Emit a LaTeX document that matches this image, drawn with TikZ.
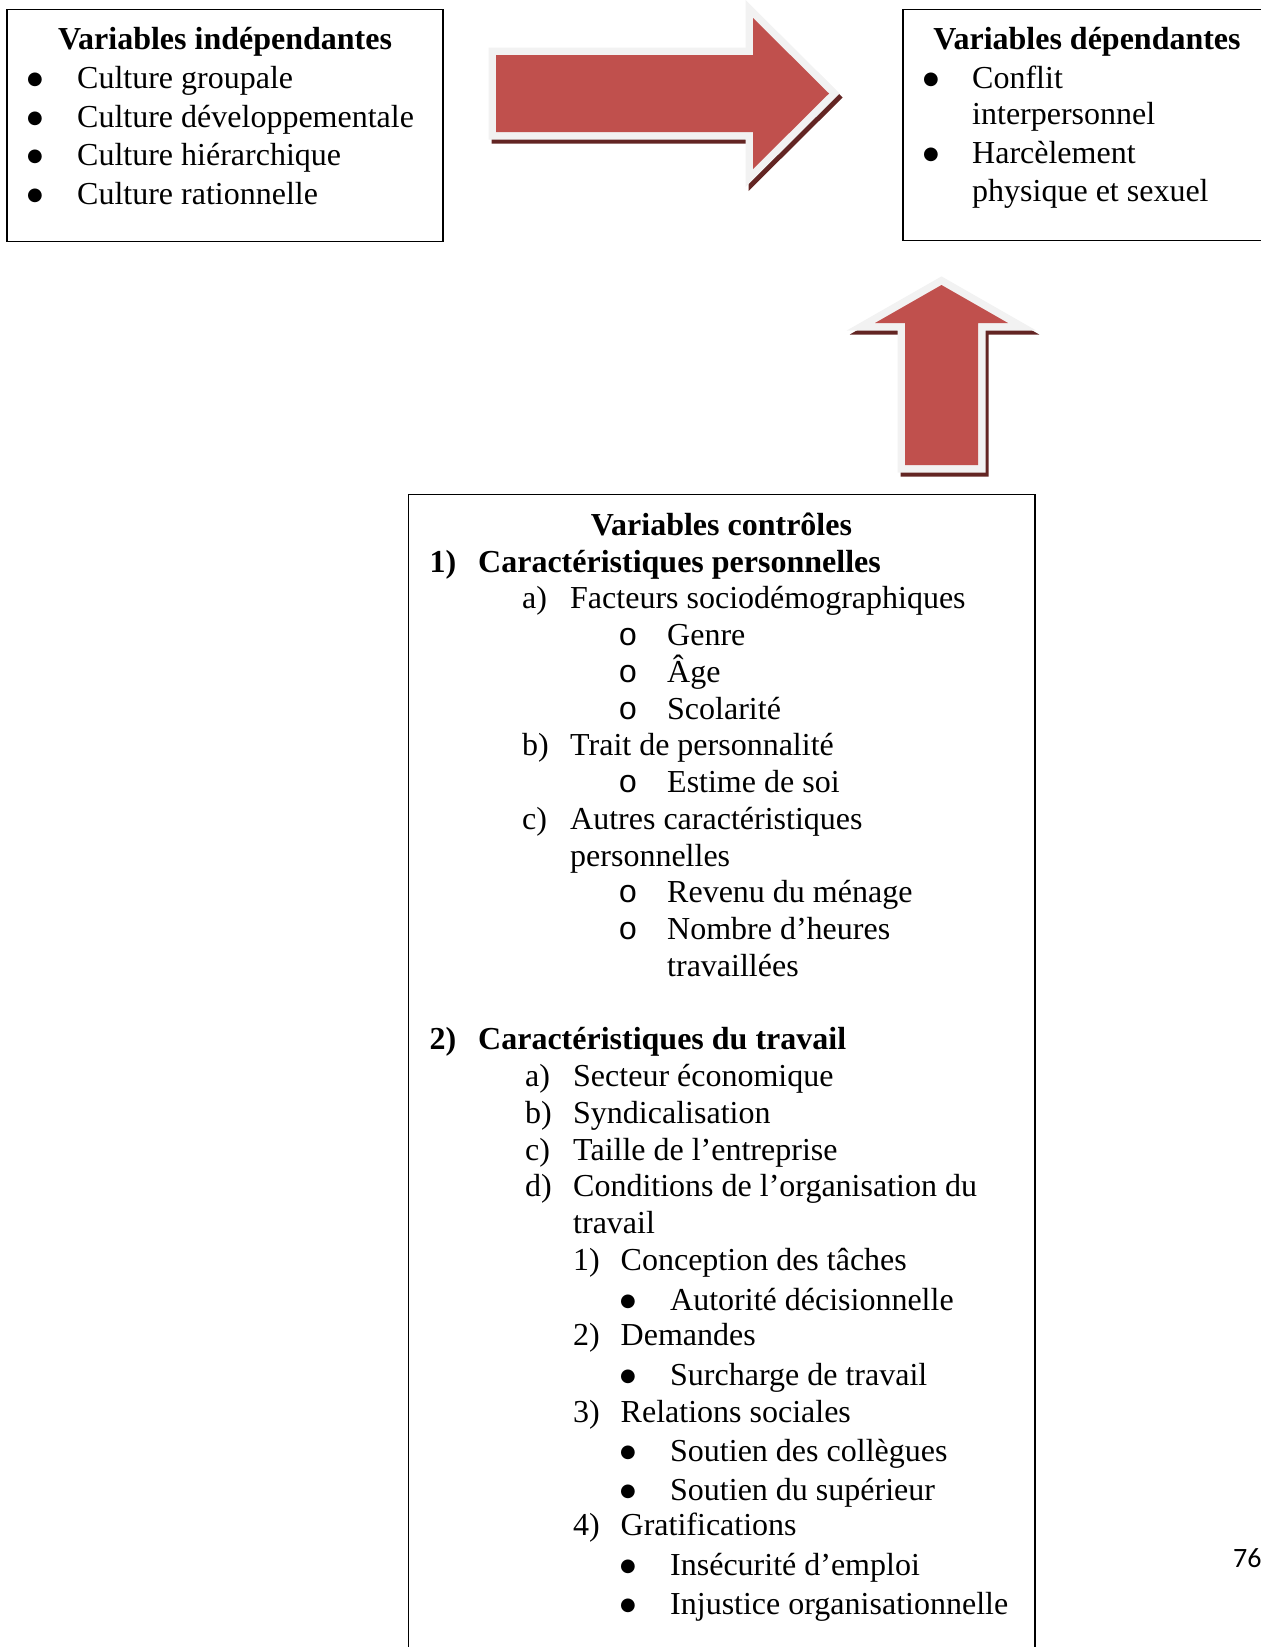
\documentclass[tikz,border=0pt]{standalone}
\usepackage{fontspec}
\setmainfont{Liberation Serif}
\setmonofont{Liberation Mono}
\newfontfamily\pagefont{Carlito}
\newfontfamily\pucefont{DejaVu Sans}
\definecolor{rougefleche}{HTML}{C0504D}
\definecolor{contour}{HTML}{F2F2F2}
\definecolor{ombre}{HTML}{632523}
\newcommand{\grossepuce}{\raisebox{4pt}{\pucefont\fontsize{18}{18}\selectfont ●}}

\begin{document}
\begin{tikzpicture} [x=1pt, y=-1pt,
	boite/.style={draw, line width=1.2pt, inner sep=0pt},
	item/.style={anchor=base west, inner sep=0pt, font=\fontsize{32}{38}\selectfont},
	gras/.style={item, font=\fontsize{32}{38}\selectfont\bfseries},
	titre/.style={anchor=base, inner sep=0pt, font=\fontsize{32}{38}\selectfont\bfseries},
	puce/.style={anchor=base, inner sep=0pt, font=\fontsize{32}{38}\selectfont},
	fleche/.style={fill=rougefleche,
		preaction={draw=ombre, fill=ombre, line width=15pt, transform canvas={shift={(3pt,-4pt)}}},
		preaction={draw=contour, line width=15pt}}]
	\useasboundingbox (0,0) rectangle (1261,1647);
	% les trois cadres
	\node [boite, minimum width=436pt, minimum height=232pt] (vi) at (225,125.5) {};
	\node [boite, minimum width=368pt, minimum height=231pt] (vd) at (1087,125) {};
	\node [boite, minimum width=626.5pt, minimum height=1166pt] (vc) at (721.75,1077.5) {};
	% les fleches
	\path [fleche] (496,55) -- (753,55) -- (753,18) -- (829,93.5) -- (753,169) -- (753,132) -- (496,132) -- cycle;
	\path [fleche] (905,465) -- (905,323) -- (875,323) -- (941.5,285) -- (1008,323) -- (978,323) -- (978,465) -- cycle;
	% variables independantes
	\node [titre] (vi-titre) at (225,49) {Variables indépendantes};
	\node [puce] (vi-p1) at (35,88) {\grossepuce};
	\node [item] (vi-1) at (77,88) {Culture groupale};
	\node [puce] (vi-p2) at (35,127) {\grossepuce};
	\node [item] (vi-2) at (77,127) {Culture développementale};
	\node [puce] (vi-p3) at (35,165) {\grossepuce};
	\node [item] (vi-3) at (77,165) {Culture hiérarchique};
	\node [puce] (vi-p4) at (35,204) {\grossepuce};
	\node [item] (vi-4) at (77,204) {Culture rationnelle};
	% variables dependantes
	\node [titre] (vd-titre) at (1087,49) {Variables dépendantes};
	\node [puce] (vd-p1) at (931,88) {\grossepuce};
	\node [item] (vd-1) at (972,88) {Conflit};
	\node [item] (vd-1b) at (972,124.5) {interpersonnel};
	\node [puce] (vd-p2) at (931,163) {\grossepuce};
	\node [item] (vd-2) at (972,163) {Harcèlement};
	\node [item] (vd-2b) at (972,201) {physique et sexuel};
	% variables controles
	\node [titre] (vc-titre) at (721.5,535) {Variables contrôles};
	\node [gras] (cp-n) at (429.5,572.5) {1)};
	\node [gras] (cp) at (478,572.5) {Caractéristiques personnelles};
	\node [item] (cp-a-n) at (522,608.5) {a)};
	\node [item] (cp-a) at (570,608.5) {Facteurs sociodémographiques};
	\node [puce] (cp-a-p1) at (628,645) {\texttt{o}};
	\node [item] (cp-a-1) at (667,645) {Genre};
	\node [puce] (cp-a-p2) at (628,682) {\texttt{o}};
	\node [item] (cp-a-2) at (667,682) {Âge};
	\node [puce] (cp-a-p3) at (628,719) {\texttt{o}};
	\node [item] (cp-a-3) at (667,719) {Scolarité};
	\node [item] (cp-b-n) at (522,755.5) {b)};
	\node [item] (cp-b) at (570,755.5) {Trait de personnalité};
	\node [puce] (cp-b-p1) at (628,792) {\texttt{o}};
	\node [item] (cp-b-1) at (667,792) {Estime de soi};
	\node [item] (cp-c-n) at (522,829) {c)};
	\node [item] (cp-c) at (570,829) {Autres caractéristiques};
	\node [item] (cp-cb) at (570,866) {personnelles};
	\node [puce] (cp-c-p1) at (628,902.5) {\texttt{o}};
	\node [item] (cp-c-1) at (667,902.5) {Revenu du ménage};
	\node [puce] (cp-c-p2) at (628,939) {\texttt{o}};
	\node [item] (cp-c-2) at (667,939) {Nombre d'heures};
	\node [item] (cp-c-2b) at (667,976) {travaillées};
	\node [gras] (ct-n) at (429.5,1049.5) {2)};
	\node [gras] (ct) at (478,1049.5) {Caractéristiques du travail};
	\node [item] (ct-a-n) at (525,1086) {a)};
	\node [item] (ct-a) at (573,1086) {Secteur économique};
	\node [item] (ct-b-n) at (525,1123) {b)};
	\node [item] (ct-b) at (573,1123) {Syndicalisation};
	\node [item] (ct-c-n) at (525,1160) {c)};
	\node [item] (ct-c) at (573,1160) {Taille de l'entreprise};
	\node [item] (ct-d-n) at (525,1196.5) {d)};
	\node [item] (ct-d) at (573,1196.5) {Conditions de l'organisation du};
	\node [item] (ct-db) at (573,1233) {travail};
	\node [item] (ct-d1-n) at (573,1270) {1)};
	\node [item] (ct-d1) at (620.5,1270) {Conception des tâches};
	\node [puce] (ct-d1-p1) at (628,1310) {\grossepuce};
	\node [item] (ct-d1-1) at (670,1310) {Autorité décisionnelle};
	\node [item] (ct-d2-n) at (573,1345.5) {2)};
	\node [item] (ct-d2) at (620.5,1345.5) {Demandes};
	\node [puce] (ct-d2-p1) at (628,1385.5) {\grossepuce};
	\node [item] (ct-d2-1) at (670,1385.5) {Surcharge de travail};
	\node [item] (ct-d3-n) at (573,1422) {3)};
	\node [item] (ct-d3) at (620.5,1422) {Relations sociales};
	\node [puce] (ct-d3-p1) at (628,1461) {\grossepuce};
	\node [item] (ct-d3-1) at (670,1461) {Soutien des collègues};
	\node [puce] (ct-d3-p2) at (628,1500) {\grossepuce};
	\node [item] (ct-d3-2) at (670,1500) {Soutien du supérieur};
	\node [item] (ct-d4-n) at (573,1535.5) {4)};
	\node [item] (ct-d4) at (620.5,1535.5) {Gratifications};
	\node [puce] (ct-d4-p1) at (628,1575.5) {\grossepuce};
	\node [item] (ct-d4-1) at (670,1575.5) {Insécurité d'emploi};
	\node [puce] (ct-d4-p2) at (628,1614) {\grossepuce};
	\node [item] (ct-d4-2) at (670,1614) {Injustice organisationnelle};
	% numero de page
	\node [anchor=base west, inner sep=0pt, font=\pagefont\fontsize{28}{32}\selectfont] (page) at (1233,1567) {76};
\end{tikzpicture}
\end{document}
